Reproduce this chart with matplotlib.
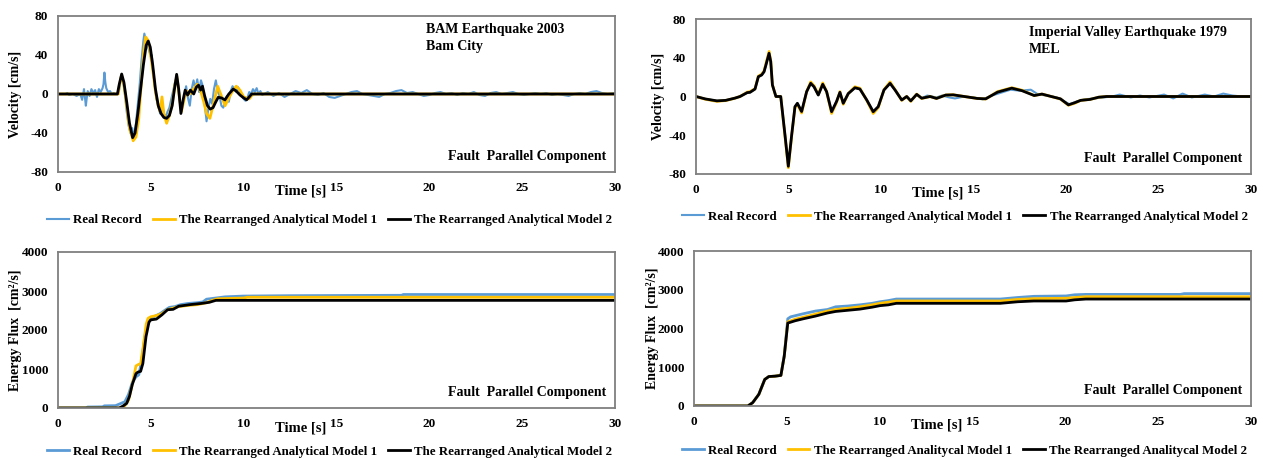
import matplotlib
matplotlib.use("Agg")
import matplotlib.pyplot as plt

plt.rcParams["font.family"] = ["Liberation Serif", "DejaVu Serif"]
plt.rcParams["font.weight"] = "bold"
plt.rcParams["axes.unicode_minus"] = False

BLUE = "#5B9BD5"
YELLOW = "#FFC000"
BLACK = "#000000"

# ---- BAM 2003 velocity ----
bam_real_t = [0, 0.4, 0.5, 0.6, 0.8, 1.0, 1.2, 1.3, 1.4, 1.5, 1.55, 1.6, 1.7, 1.8, 1.9, 2.0,
              2.1, 2.2, 2.3, 2.4, 2.45, 2.5, 2.55, 2.6, 2.7, 2.8, 2.9, 3.0, 3.1, 3.2,
              3.3, 3.4, 3.5, 3.6, 3.7, 3.8, 3.9, 4.0, 4.05, 4.1, 4.2, 4.3, 4.4, 4.5, 4.6,
              4.65, 4.7, 4.8, 4.9, 5.0, 5.05, 5.1, 5.2, 5.3, 5.4, 5.5, 5.6, 5.7, 5.8, 5.9,
              6.0, 6.1, 6.2, 6.3, 6.4, 6.5, 6.6, 6.7, 6.8, 6.9, 7.0, 7.1, 7.2, 7.3, 7.4,
              7.5, 7.6, 7.7, 7.8, 7.9, 8.0, 8.1, 8.2, 8.3, 8.4, 8.5, 8.6, 8.7, 8.8, 8.9,
              9.0, 9.1, 9.2, 9.3, 9.4, 9.5, 9.6, 9.7, 9.8, 9.9, 10.0, 10.1, 10.2, 10.3,
              10.4, 10.5, 10.6, 10.7, 10.8, 10.9, 11.0,
              11.3, 11.6, 11.9, 12.2, 12.5, 12.8, 13.1, 13.4, 13.7, 14.0, 14.3, 14.6, 14.9,
              15.2, 15.5, 15.8, 16.1, 16.4, 16.7, 17.0, 17.3, 17.6, 17.9, 18.2, 18.5, 18.8,
              19.1, 19.4, 19.7, 20.0, 20.3, 20.6, 20.9, 21.2, 21.5, 21.8, 22.1, 22.4, 22.7,
              23.0, 23.3, 23.6, 23.9, 24.2, 24.5, 24.8, 25.1, 25.4, 25.7, 26.0, 26.3, 26.6,
              26.9, 27.2, 27.5, 27.8, 28.1, 28.4, 28.7, 29.0, 29.3, 29.6, 30]
bam_real_v = [0, 0, 1, -1, 0, -2, 0, -6, 5, -12, -4, 3, -2, 5, 1, 4,
              -3, 5, 2, 6, 10, 22, 12, 6, 2, 3, 0, 1, 0, 0,
              5, 19, 14, 0, -18, -32, -40, -35, -45, -42, -30, -10, 10, 35, 55,
              62, 58, 50, 45, 38, 40, 28, 10, -5, -12, -20, -8, -20, -24, -18,
              -14, -5, 3, 12, 17, 5, -14, -10, -2, 8, -4, -12, 5, 14, 5,
              15, 2, 14, 8, -10, -28, -15, -5, -10, 5, 14, 3, -2, -12, -14,
              -8, -2, -8, 3, 8, 5, 2, 7, 2, -2, -5, -7, -4, 2,
              0, 5, 2, 6, 0, 3, -1,
              2, -2, 1, -3, 0, 3, 1, 4, 0, -1, 1, -3, -4,
              -2, 0, 2, 3, 0, -1, -2, -3, 0, 1, 3, 4, 1,
              2, 0, -2, -1, 1, 2, 0, 1, -1, 1, 0, 2, -1,
              -2, 1, 2, 0, 1, 2, 0, -1, 0, 1, 0, 1, -1,
              0, -1, -2, 0, 1, 0, 2, 3, 1, 0, 1]

bam_m1_t = [0, 3.25, 3.3, 3.42, 3.55, 3.7, 3.85, 4.05, 4.2, 4.35, 4.5, 4.6, 4.72, 4.85, 4.95,
            5.1, 5.25, 5.4, 5.5, 5.6, 5.7, 5.85, 6.0, 6.15, 6.3, 6.4, 6.55, 6.65, 6.8, 6.95,
            7.1, 7.3, 7.5, 7.7, 7.85, 8.0, 8.18, 8.35, 8.6, 8.8, 9.0, 9.2, 9.4, 9.6, 9.8,
            10.0, 10.3, 10.5, 30]
bam_m1_v = [0, 0, 8, 19, 10, -12, -35, -48, -44, -25, 15, 40, 58.5, 55, 45,
            25, 2, -12, -18, -3, -20, -30, -22, -10, 10, 18, -5, -18, -5, 3,
            0, 5, 10, 2, -8, -20, -25, -12, 8, -2, -12, -4, 3, 8, 4,
            -3, -5, 0, 0]

bam_m2_t = [0, 3.2, 3.3, 3.43, 3.55, 3.7, 3.85, 4.02, 4.15, 4.3, 4.45, 4.6, 4.75, 4.86, 4.97,
            5.1, 5.25, 5.4, 5.55, 5.7, 5.85, 6.0, 6.15, 6.25, 6.39, 6.5, 6.62, 6.75, 6.85,
            6.98, 7.13, 7.31, 7.45, 7.57, 7.68, 7.78, 7.9, 8.05, 8.2, 8.35, 8.5, 8.63, 8.8,
            8.99, 9.2, 9.44, 9.6, 9.8, 10.0, 10.16, 10.3, 10.43, 30]
bam_m2_v = [0, 0, 10, 20.5, 12, -8, -30, -44.8, -40, -20, 5, 30, 50, 54.3, 48,
            30, 5, -12, -20, -24, -25, -22, -12, 2, 20.2, 5, -20, -5, 4,
            -1, 4, 0, 7, 9, 4, 8, -2, -12, -15.5, -14, -8, -3.4, -4,
            -6, 0, 5.1, 3, -1, -4, -6, -3, 0, 0]

# ---- Imperial Valley 1979 velocity ----
iv_m2_t = [0, 0.5, 1.13, 1.6, 2.1, 2.38, 2.77, 2.92, 3.19, 3.37, 3.55, 3.68, 3.78, 3.95, 4.04,
           4.13, 4.32, 4.58, 4.81, 4.99, 5.17, 5.35, 5.48, 5.71, 5.98, 6.2, 6.38, 6.61, 6.85,
           7.06, 7.33, 7.6, 7.78, 7.96, 8.23, 8.59, 8.86, 9.23, 9.58, 9.85, 10.16, 10.49,
           10.76, 11.12, 11.39, 11.61, 11.93, 12.2, 12.65, 13.0, 13.5, 13.9, 14.5, 15.2,
           15.66, 16.3, 17.07, 17.62, 18.28, 18.7, 19.2, 19.7, 20.13, 20.46, 20.79, 21.3,
           21.77, 22.2, 30]
iv_m2_v = [0, -2.5, -4.5, -4, -1.7, 0, 4, 4.3, 7.7, 20.4, 22.2, 25.6, 32.5, 44.6, 36,
           11.9, 0, 0, -39.7, -72, -40, -10.5, -7, -15.5, 5, 13.6, 10, 1.5, 12.6,
           5, -15.7, -5, 4.3, -7, 3, 9, 7.7, -3.6, -15.7, -10.5, 6.7, 13.6,
           6.7, -3.6, 0, -4.5, 2.2, -1.8, 0, -2, 1.5, 1.7, 0, -2,
           -2.4, 4.5, 8.6, 6, 1, 2.5, 0, -2.4, -8.6, -6.5, -4, -3,
           -0.7, 0, 0]
iv_m1_v = [0, -2.8, -5, -4.2, -1.8, 0, 4.5, 5, 8, 21, 23, 26.5, 34, 46.5, 37,
           12, 0, 0, -41, -73.5, -41, -11, -8, -17, 5, 15, 11, 2, 14,
           5, -17.5, -6, 5, -8, 3, 10, 8.5, -4, -17.5, -11.5, 7, 15,
           7, -4, 0, -5, 2.5, -2, 0, -2, 1.5, 1.8, 0, -2,
           -2.6, 5, 9, 6.5, 1, 2.5, 0, -2.6, -9, -7, -4, -3,
           -0.8, 0, 0]
iv_real_t = [0, 0.5, 1.13, 1.6, 2.1, 2.38, 2.77, 2.92, 3.19, 3.37, 3.55, 3.68, 3.78, 3.95, 4.04,
             4.13, 4.32, 4.58, 4.81, 4.99, 5.17, 5.35, 5.48, 5.71, 5.98, 6.2, 6.38, 6.61, 6.85,
             7.06, 7.33, 7.6, 7.78, 7.96, 8.23, 8.59, 8.86, 9.23, 9.58, 9.85, 10.16, 10.49,
             10.76, 11.12, 11.39, 11.61, 11.93, 12.2, 12.5, 13.0, 13.3, 13.7, 14.0, 14.5, 15.0,
             15.5, 16.0, 16.5, 17.0, 17.5, 18.1, 18.5, 19.0, 19.5, 20.2, 20.6, 21.0, 21.5, 22.0,
             22.5, 22.9, 23.5, 24.0, 24.5, 25.3, 25.8, 26.3, 26.8, 27.5, 28.0, 28.5, 29.0,
             29.5, 30]
iv_real_v = [0, -2.5, -4.5, -4, -1.7, 0, 4, 4.3, 7.7, 20.4, 22.2, 25.6, 32.5, 44.6, 36,
             11.9, 0, 0, -39.7, -72, -40, -10.5, -7, -15.5, 5, 13.6, 10, 1.5, 12.6,
             5, -15.7, -5, 4.3, -7, 3, 9, 7.7, -3.6, -15.7, -10.5, 6.7, 13.6,
             6.7, -3.6, 0, -4.5, 2.2, -1.8, 1, -1, 1, -1, -2, 0, -1,
             -3, 1, 4, 7, 6, 7, 2, 1, -1, -8, -5, -3, -2, -1,
             0, 2, -1, 1, -1, 2, -2, 3, -1, 2, 0, 3, 1,
             0, 0]

# ---- energy flux ----
bam_e_real_t = [0, 1.5, 1.6, 2.4, 2.5, 3.1, 3.3, 3.6, 3.8, 4.0, 4.2, 4.35, 4.5, 4.7, 4.9, 5.0,
                5.2, 5.5, 5.8, 6.0, 6.3, 6.6, 7.0, 7.5, 7.8, 8.0, 8.5, 9.0, 10.0, 12.5, 18.5,
                18.6, 30]
bam_e_real = [0, 0, 25, 30, 55, 60, 100, 160, 350, 650, 800, 850, 1200, 1900, 2280, 2310,
              2350, 2420, 2520, 2580, 2600, 2650, 2680, 2700, 2720, 2790, 2820, 2850, 2870,
              2880, 2890, 2910, 2910]
bam_e_m1_t = [0, 3.45, 3.6, 3.8, 4.0, 4.2, 4.35, 4.45, 4.6, 4.75, 4.85, 5.0, 5.3, 5.6, 5.9,
              6.2, 6.5, 7.0, 7.5, 8.0, 8.3, 8.6, 10.0, 10.2, 30]
bam_e_m1 = [0, 0, 60, 200, 600, 1080, 1120, 1130, 1600, 2150, 2300, 2340, 2370, 2420, 2520,
            2560, 2600, 2630, 2650, 2700, 2760, 2800, 2820, 2840, 2840]
bam_e_m2_t = [0, 3.3, 3.5, 3.7, 3.85, 4.0, 4.2, 4.3, 4.45, 4.57, 4.74, 4.9, 5.0, 5.3, 5.6,
              5.9, 6.2, 6.5, 7.1, 7.7, 8.15, 8.5, 30]
bam_e_m2 = [0, 0, 50, 120, 300, 600, 880, 920, 940, 1140, 1830, 2200, 2260, 2280, 2390,
            2520, 2530, 2610, 2650, 2680, 2710, 2760, 2760]

iv_e_t = [0, 2.9, 3.16, 3.49, 3.81, 4.03, 4.36, 4.68, 4.86, 5.05, 5.45, 5.88, 6.54, 7.19,
          7.63, 8.28, 8.93, 9.59, 10.02, 10.46, 10.9, 16.5, 17.43, 18.3, 20.04, 20.5, 21.1, 30]
iv_e_m2 = [0, 0, 86, 300, 685, 760, 770, 790, 1285, 2140, 2200, 2250, 2320, 2400,
           2440, 2470, 2500, 2550, 2590, 2610, 2650, 2650, 2690, 2710, 2710, 2740, 2760, 2760]
iv_e_m1 = [0, 0, 86, 300, 685, 760, 770, 790, 1285, 2170, 2240, 2290, 2370, 2450,
           2490, 2520, 2560, 2610, 2650, 2680, 2710, 2710, 2750, 2770, 2780, 2800, 2820, 2820]
iv_e_real_t = [0, 2.9, 3.16, 3.49, 3.81, 4.03, 4.36, 4.68, 4.86, 5.05, 5.2, 5.45, 5.88, 6.54,
               7.19, 7.63, 8.28, 8.93, 9.59, 10.02, 10.46, 10.9, 16.5, 17.43, 18.3, 20.04,
               20.5, 21.1, 26.2, 26.4, 30]
iv_e_real = [0, 0, 86, 300, 685, 760, 770, 790, 1300, 2250, 2300, 2330, 2380, 2450,
             2490, 2560, 2580, 2610, 2650, 2690, 2720, 2760, 2760, 2800, 2830, 2840,
             2870, 2880, 2880, 2900, 2900]

names_1 = ["Real Record", "The Rearranged Analytical Model 1", "The Rearranged Analytical Model 2"]
names_2 = ["Real Record", "The Rearranged Analitycal Model 1", "The Rearranged Analitycal Model 2"]

W, H = 1263, 459
fig = plt.figure(figsize=(W / 100, H / 100), dpi=100)


def make_axes(left, right, top, bottom):
    return fig.add_axes([left / W, 1 - bottom / H, (right - left) / W, (bottom - top) / H])


def style(ax, ylim, yticks, ylabel, ylab_x, leg_x, leg_y, names):
    ax.set_xlim(0, 30)
    ax.set_ylim(*ylim)
    ax.set_xticks(range(0, 31, 5))
    ax.set_yticks(yticks)
    ax.tick_params(length=0, labelsize=9.5, pad=7)
    for lab in ax.get_xticklabels() + ax.get_yticklabels():
        lab.set_fontweight("bold")
    for s in ax.spines.values():
        s.set_color("#7f7f7f")
        s.set_linewidth(1.3)
    ax.text(ylab_x, 0.5, ylabel, rotation=90, ha="center", va="center",
            transform=ax.transAxes, fontsize=10, fontweight="bold")
    ax.text(0.435, -0.125, "Time [s]", ha="center", va="center",
            transform=ax.transAxes, fontsize=10.5, fontweight="bold")
    ax.text(0.985, 0.10, "Fault  Parallel Component", ha="right", va="center",
            transform=ax.transAxes, fontsize=10, fontweight="bold")
    leg = ax.legend(names, loc="center left", bbox_to_anchor=(leg_x, leg_y), ncol=3,
                    frameon=False, fontsize=9.25, handlelength=1.7, handletextpad=0.35,
                    columnspacing=0.85, borderaxespad=0, borderpad=0)
    for t in leg.get_texts():
        t.set_fontweight("bold")


# velocity, BAM
ax1 = make_axes(58, 615, 16, 172)
ax1.plot(bam_real_t, bam_real_v, color=BLUE, lw=1.5)
ax1.plot(bam_m1_t, bam_m1_v, color=YELLOW, lw=2)
ax1.plot(bam_m2_t, bam_m2_v, color=BLACK, lw=2)
style(ax1, (-80, 80), [-80, -40, 0, 40, 80], "Velocity [cm/s]", -0.077, -0.02, -0.31, names_1)
ax1.text(0.66, 0.955, "BAM Earthquake 2003\nBam City", ha="left", va="top",
         transform=ax1.transAxes, fontsize=10, fontweight="bold", linespacing=1.4)

# velocity, Imperial Valley
ax2 = make_axes(696, 1251, 19, 174)
ax2.plot(iv_real_t, iv_real_v, color=BLUE, lw=1.5)
ax2.plot(iv_m2_t, iv_m1_v, color=YELLOW, lw=2)
ax2.plot(iv_m2_t, iv_m2_v, color=BLACK, lw=2)
style(ax2, (-80, 80), [-80, -40, 0, 40, 80], "Velocity [cm/s]", -0.068, -0.025, -0.277, names_1)
ax2.text(0.6, 0.955, "Imperial Valley Earthquake 1979\nMEL", ha="left", va="top",
         transform=ax2.transAxes, fontsize=10, fontweight="bold", linespacing=1.4)

# energy flux, BAM
ax3 = make_axes(58, 615, 252, 408)
ax3.plot(bam_e_real_t, bam_e_real, color=BLUE, lw=2)
ax3.plot(bam_e_m1_t, bam_e_m1, color=YELLOW, lw=2)
ax3.plot(bam_e_m2_t, bam_e_m2, color=BLACK, lw=2)
style(ax3, (0, 4000), [0, 1000, 2000, 3000, 4000], "Energy Flux  [cm²/s]", -0.077, -0.02, -0.28, names_1)

# energy flux, Imperial Valley
ax4 = make_axes(694, 1251, 251, 406)
ax4.plot(iv_e_real_t, iv_e_real, color=BLUE, lw=2)
ax4.plot(iv_e_t, iv_e_m1, color=YELLOW, lw=2)
ax4.plot(iv_e_t, iv_e_m2, color=BLACK, lw=2)
style(ax4, (0, 4000), [0, 1000, 2000, 3000, 4000], "Energy Flux  [cm²/s]", -0.075, -0.022, -0.29, names_2)

fig.savefig("out.png", dpi=100)
